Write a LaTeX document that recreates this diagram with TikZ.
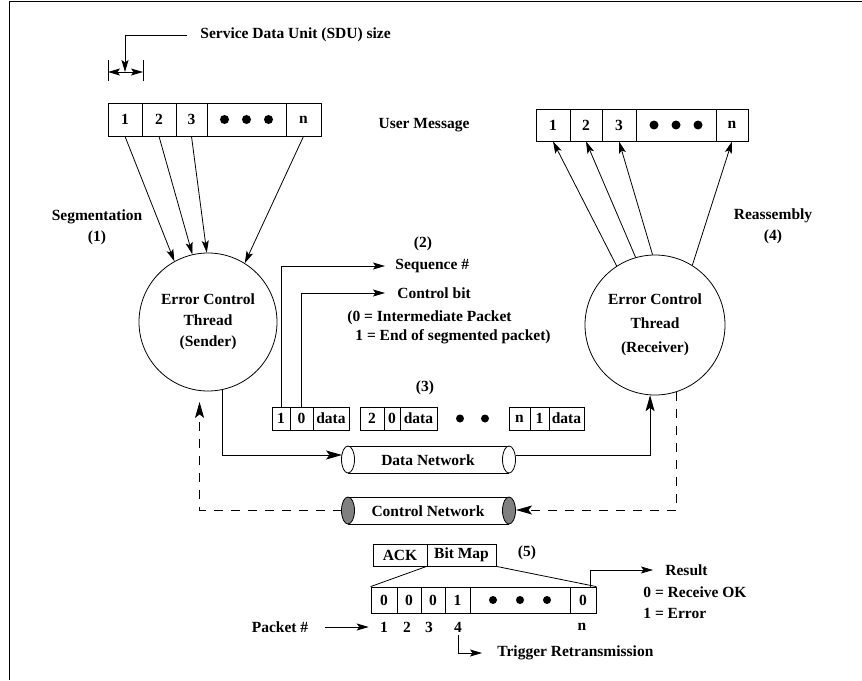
\documentclass[tikz,border=0pt]{standalone}
\usepackage{fontspec}
\setmainfont{Liberation Serif}
\usetikzlibrary{arrows.meta}

\begin{document}
\begin{tikzpicture}[x=1pt,y=-1pt, line width=0.8pt,
  every node/.style={font=\fontsize{15.5}{21}\selectfont\bfseries, inner sep=2pt},
  cell/.style={draw, inner sep=0pt, minimum height=#1}, cell/.default=33,
  tag/.style={anchor=west, inner sep=0pt},
  thread/.style={draw, circle, minimum size=138pt, inner sep=0pt, align=center},
  arr/.style={-{Stealth[length=12pt,width=7pt,inset=2.5pt]}},
  bigarr/.style={-{Stealth[length=16pt,width=9pt,inset=3.5pt]}},
  ctrl/.style={dash pattern=on 9pt off 8pt}]
  \useasboundingbox (0,0) rectangle (862,680);
  \draw (862,1) -- (9,1) -- (9,680);

  % SDU size
  \node[tag] (sdu) at (200,35) {Service Data Unit (SDU) size};
  \coordinate (sdum) at (125,72);
  \coordinate (sdul) at (108,72);
  \coordinate (sdur) at (143,72);
  \draw[arr] ([xshift=-13pt]sdu.west) -| (sdum);
  \draw ([yshift=12pt]sdul) -- ([yshift=-9pt]sdul) ([yshift=12pt]sdur) -- ([yshift=-9pt]sdur);
  \draw[arr] (sdum) -- (sdul);
  \draw[arr] (sdum) -- (sdur);

  % user message, sender side
  \node[cell, minimum width=34] (u1) at (125,119.5) {1};
  \node[cell, minimum width=34] (u2) at (159,119.5) {2};
  \node[cell, minimum width=31] (u3) at (191.5,119.5) {3};
  \node[cell, minimum width=79] (ud) at (246.5,119.5) {};
  \node[cell, minimum width=35] (un) at (303.5,119.5) {n};
  \node (umsg) at (424,125) {User Message};

  % user message, receiver side
  \node[cell=32, minimum width=34] (r1) at (553,125) {1};
  \node[cell=32, minimum width=32] (r2) at (586,125) {2};
  \node[cell=32, minimum width=34] (r3) at (619,125) {3};
  \node[cell=32, minimum width=80] (rd) at (676,125) {};
  \node[cell=32, minimum width=32] (rn) at (732,125) {n};

  \node[thread] (snd) at (208,322) {Error Control\\Thread\\(Sender)};
  \node[thread, minimum size=140pt] (rcv) at (655,325) {Error Control\\[3pt]Thread\\[3pt](Receiver)};
  \node[align=center] (seg) at (97,227) {Segmentation\\(1)};
  \node[align=center] (reas) at (773,226) {Reassembly\\(4)};

  \draw[arr] (u1.south) -- (snd.119);
  \draw[arr] (u2.south) -- (snd.103);
  \draw[arr] (u3.south) -- (snd.91);
  \draw[arr] (un.south) -- (snd.58);
  \draw[arr] (rcv.123) -- (r1.south);
  \draw[arr] (rcv.106) -- (r2.south);
  \draw[arr] (rcv.92) -- (r3.south);
  \draw[arr] (rcv.58) -- (rn.south);

  % segmented packets
  \node (two) at (423,244) {(2)};
  \node[tag] (seq) at (395,266) {Sequence \#};
  \node[tag] (ctl) at (397,293) {Control bit};
  \node[tag] (ctl0) at (347,318) {(0 = Intermediate Packet};
  \node[tag] (ctl1) at (355,337) {1 = End of segmented packet)};
  \node (three) at (425,388) {(3)};
  \node[cell=23, minimum width=18] (p1a) at (281,418.5) {1};
  \node[cell=23, minimum width=23] (p1b) at (301.5,418.5) {0};
  \node[cell=23, minimum width=36] (p1c) at (331,418.5) {data};
  \node[cell=23, minimum width=24] (p2a) at (372,418.5) {2};
  \node[cell=23, minimum width=16] (p2b) at (392,418.5) {0};
  \node[cell=23, minimum width=37] (p2c) at (418.5,418.5) {data};
  \node[cell=23, minimum width=21] (p3a) at (519.5,418.5) {n};
  \node[cell=23, minimum width=19] (p3b) at (539.5,418.5) {1};
  \node[cell=23, minimum width=35] (p3c) at (566.5,418.5) {data};
  \draw[arr] (p1a.north) |- ([xshift=-10pt]seq.west);
  \draw[arr] (p1b.north) |- ([xshift=-12pt]ctl.west);

  % networks
  \foreach \y/\c in {459.5/white, 510.5/gray} {
    \draw (348,\y-13.5) -- (509,\y-13.5) (348,\y+13.5) -- (509,\y+13.5);
    \draw[fill=\c] (348,\y) ellipse [x radius=6.5pt, y radius=13.5pt];
    \draw[fill=\c] (509,\y) ellipse [x radius=6.5pt, y radius=13.5pt];
  }
  \node (dnet) at (428,460) {Data Network};
  \node (cnet) at (428,511) {Control Network};
  \coordinate (din) at (342,455);
  \coordinate (dout) at (515.5,455);
  \coordinate (cin) at (516,510);
  \coordinate (cout) at (341.5,510);
  \draw[bigarr] (snd.282) |- (din);
  \draw[bigarr] (dout) -| (rcv.266);
  \draw[bigarr, ctrl] (rcv.288) |- (cin);
  \draw[bigarr, ctrl, shorten >=11pt] (cout) -| (snd.263);

  % acknowledgement
  \node[cell=22, minimum width=54] (ack) at (400,555) {ACK};
  \node[cell=22, minimum width=69] (bmap) at (461.5,555) {Bit Map};
  \node (five) at (527,553) {(5)};
  \node[cell=26, minimum width=26] (b1) at (384,600) {0};
  \node[cell=26, minimum width=24] (b2) at (409,600) {0};
  \node[cell=26, minimum width=24] (b3) at (433,600) {0};
  \node[cell=26, minimum width=25] (b4) at (457.5,600) {1};
  \node[cell=26, minimum width=100] (bd) at (520,600) {};
  \node[cell=26, minimum width=26] (bn) at (583,600) {0};
  \draw (bmap.south west) -- (b1.north west);
  \draw (bmap.south east) -- (bn.north east);

  \node (k1) at (384,627) {1};
  \node (k2) at (407,627) {2};
  \node (k3) at (429,627) {3};
  \node (k4) at (458,627) {4};
  \node (kn) at (582,627) {n};
  \node (pkt) at (280,627) {Packet \#};
  \draw[arr] ([xshift=14pt]pkt.east) -- ([xshift=-9pt]k1.west);
  \node[tag] (trig) at (497,653) {Trigger Retransmission};
  \draw[arr] (k4.south) |- ([xshift=-15pt]trig.west);
  \node[tag] (res) at (665,570) {Result};
  \node[tag] (rok) at (643,592) {0 = Receive OK};
  \node[tag] (rerr) at (643,613) {1 = Error};
  \draw[arr] ([xshift=7pt]bn.north) |- ([xshift=-12pt]res.west);

  % dots
  \foreach \n in {ud,rd} \foreach \dx in {-22,0,22} \fill ([xshift=\dx pt]\n.center) circle (4.5pt);
  \foreach \dx in {-27,0,27} \fill ([xshift=\dx pt]bd.center) circle (4pt);
  \fill (460,418.5) circle (4pt) (485,418.5) circle (4pt);
\end{tikzpicture}
\end{document}
